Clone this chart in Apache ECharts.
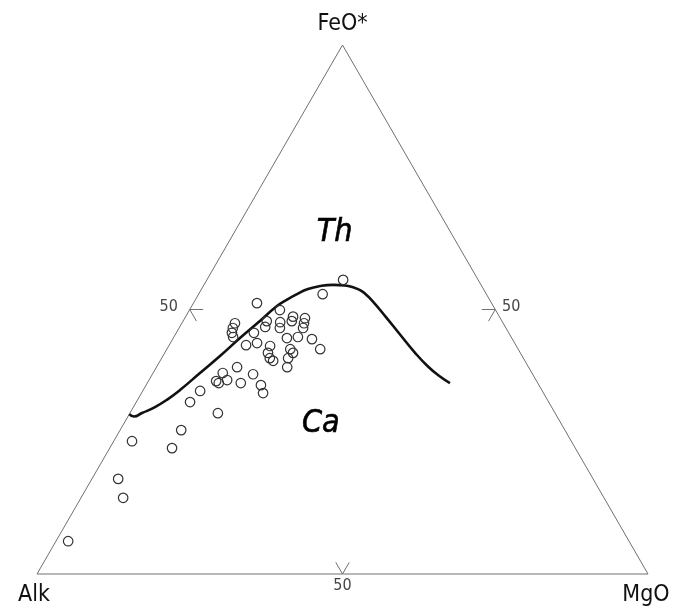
<!DOCTYPE html>
<html><head><meta charset="utf-8">
<script src="https://cdn.jsdelivr.net/npm/echarts@6/dist/echarts.min.js"></script>
<style>html,body{margin:0;padding:0;background:#fff}#c{width:693px;height:613px}</style>
</head><body><div id="c"></div>
<script>
// ---- data (ternary percentages: FeO*, Alk, MgO) ----
const vertexNames = ['FeO*', 'Alk', 'MgO'];
const tickLabel = '50';
const tickValue = 50;

const sampleFeO = [55.6,52.9,51.2,49.9,48.7,47.8,48.4,47.4,46.5,47.8,46.7,47.6,46.5,47.4,46.5,45.6,44.8,45.6,43.3,43.7,43.1,41.8,40.8,40.3,44.6,44.8,44.4,42.5,42.5,41.8,40.8,39.1,39.1,37.8,38.0,36.5,36.1,36.7,36.1,35.7,34.2,34.6,32.5,30.4,27.2,23.8,25.1,18.0,14.4,6.2];
const sampleAlk = [22.1,26.8,38.4,35.3,33.8,34.4,32.0,32.6,33.2,38.5,39.3,36.4,37.0,43.9,44.7,45.3,45.5,41.7,44.2,42.2,40.3,41.3,41.5,41.2,36.8,34.9,32.8,32.4,37.3,37.2,38.5,39.5,47.7,45.8,50.6,52.5,52.2,50.6,48.6,45.5,45.9,56.0,58.7,55.2,62.8,66.0,71.9,77.8,78.7,91.8];
const sampleMgO = [22.3,20.3,10.4,14.8,17.6,17.8,19.7,20.0,20.3,13.7,14.0,16.0,16.5,8.7,8.8,9.1,9.7,12.7,12.6,14.2,16.6,16.9,17.7,18.5,18.6,20.3,22.8,25.1,20.2,21.0,20.7,21.4,13.2,16.5,11.4,11.1,11.7,12.8,15.3,18.8,19.9,9.4,8.8,14.4,10.0,10.2,3.0,4.3,6.9,2.0];

// Th / Ca dividing curve
const curveFeO = [30.24,29.77,30.43,31.56,33.07,34.78,37.99,41.20,44.60,47.34,50.65,51.88,52.92,53.86,54.43,54.66,54.53,54.19,53.68,52.83,51.50,48.57,45.27,42.05,39.22,37.33,36.10];
const curveAlk = [69.76,69.24,67.60,64.91,62.03,59.20,54.33,49.45,44.48,40.33,35.40,33.14,30.99,28.72,26.47,24.22,22.32,21.19,20.29,19.74,19.26,18.60,17.95,17.27,16.40,15.38,14.36];
const curveMgO = [0.00,0.99,1.97,3.53,4.90,6.02,7.68,9.35,10.92,12.33,13.95,14.98,16.09,17.42,19.10,21.12,23.15,24.62,26.03,27.43,29.24,32.83,36.78,40.68,44.38,47.29,49.54];

const fieldNames = ['Th', 'Ca'];
const fieldFeO = [64.6, 28.5];
const fieldAlk = [19.0, 39.3];
const fieldMgO = [16.4, 32.2];

// ---- helpers ----
const H = Math.sqrt(3) / 2;
function toXY(f, a, m) { const s = f + a + m; return [(m + f / 2) / s, (f / s) * H]; }
const FONT = '"Liberation Sans Narrow","DejaVu Sans Condensed","Arial Narrow",sans-serif';

const samples = sampleFeO.map((f, i) => toXY(f, sampleAlk[i], sampleMgO[i]));
const curve = curveFeO.map((f, i) => toXY(f, curveAlk[i], curveMgO[i]));

// vertices: [F, A, M]
const vF = [100, 0, 0], vA = [0, 100, 0], vM = [0, 0, 100];
const frame = [vA, vM, vF, vA].map(v => toXY(v[0], v[1], v[2]));

// chevron ticks at the 50 mark of each edge, arms parallel to the other edges
const arm = 2.2;
const chevrons = [
  [[arm, tickValue - arm, 100 - tickValue], [0, tickValue, 100 - tickValue], [arm, tickValue, 100 - tickValue - arm]],
  [[tickValue, 100 - tickValue - arm, arm], [tickValue, 100 - tickValue, 0], [tickValue - arm, 100 - tickValue, arm]],
  [[tickValue, arm, 100 - tickValue - arm], [tickValue, 0, 100 - tickValue], [tickValue - arm, arm, 100 - tickValue]]
].map(c => c.map(p => toXY(p[0], p[1], p[2])));

const tickLabelPts = [
  { value: toXY(0, tickValue, 100 - tickValue), off: [0, 12] },
  { value: toXY(tickValue, 100 - tickValue, 0), off: [-21, -3] },
  { value: toXY(tickValue, 0, 100 - tickValue), off: [16, -3] }
];

const vertexLabelPts = [
  { name: vertexNames[0], value: toXY(100, 0, 0), off: [0, -21] },
  { name: vertexNames[1], value: toXY(0, 100, 0), off: [-3, 21] },
  { name: vertexNames[2], value: toXY(0, 0, 100), off: [-2, 21] }
];

const textStyleItem = { opacity: 1, color: 'rgba(0,0,0,0)' };

const series = [];
series.push({
  type: 'line', data: frame, symbol: 'none', clip: false, silent: true,
  lineStyle: { color: '#707070', width: 1 }, z: 1
});
chevrons.forEach(c => series.push({
  type: 'line', data: c, symbol: 'none', clip: false, silent: true,
  lineStyle: { color: '#707070', width: 1 }, z: 1
}));
series.push({
  type: 'line', data: curve, symbol: 'none', smooth: 0.5, clip: false,
  lineStyle: { color: '#111', width: 2.6 }, z: 3
});
series.push({
  type: 'scatter', data: samples, symbol: 'circle', symbolSize: 9.5, clip: false,
  itemStyle: { color: 'rgba(255,255,255,0)', borderColor: '#333', borderWidth: 1.2, opacity: 1 }, z: 4
});
series.push({
  type: 'scatter', symbolSize: 0, clip: false, silent: true, z: 5, itemStyle: textStyleItem,
  data: vertexLabelPts.map(p => ({
    name: p.name, value: p.value,
    label: { show: true, position: 'inside', offset: p.off, formatter: p.name,
      fontFamily: FONT, fontSize: 23, color: '#111' }
  }))
});
series.push({
  type: 'scatter', symbolSize: 0, clip: false, silent: true, z: 5, itemStyle: textStyleItem,
  data: tickLabelPts.map(p => ({
    value: p.value,
    label: { show: true, position: 'inside', offset: p.off, formatter: tickLabel,
      fontFamily: FONT, fontSize: 16, color: '#444' }
  }))
});
series.push({
  type: 'scatter', symbolSize: 0, clip: false, silent: true, z: 5, itemStyle: textStyleItem,
  data: fieldNames.map((n, i) => ({
    name: n, value: toXY(fieldFeO[i], fieldAlk[i], fieldMgO[i]),
    label: { show: true, position: 'inside', formatter: n,
      fontFamily: FONT, fontSize: 32, fontStyle: 'italic', fontWeight: 'normal', color: '#000',
      textBorderColor: '#000', textBorderWidth: 0.6 }
  }))
});

const chart = echarts.init(document.getElementById('c'), null, { renderer: 'canvas' });
chart.setOption({
  animation: false,
  backgroundColor: '#fff',
  grid: { left: 37, top: 45, width: 611, height: 529 },
  xAxis: { type: 'value', min: 0, max: 1, show: false },
  yAxis: { type: 'value', min: 0, max: H, show: false },
  series: series
});
</script>
</body></html>
